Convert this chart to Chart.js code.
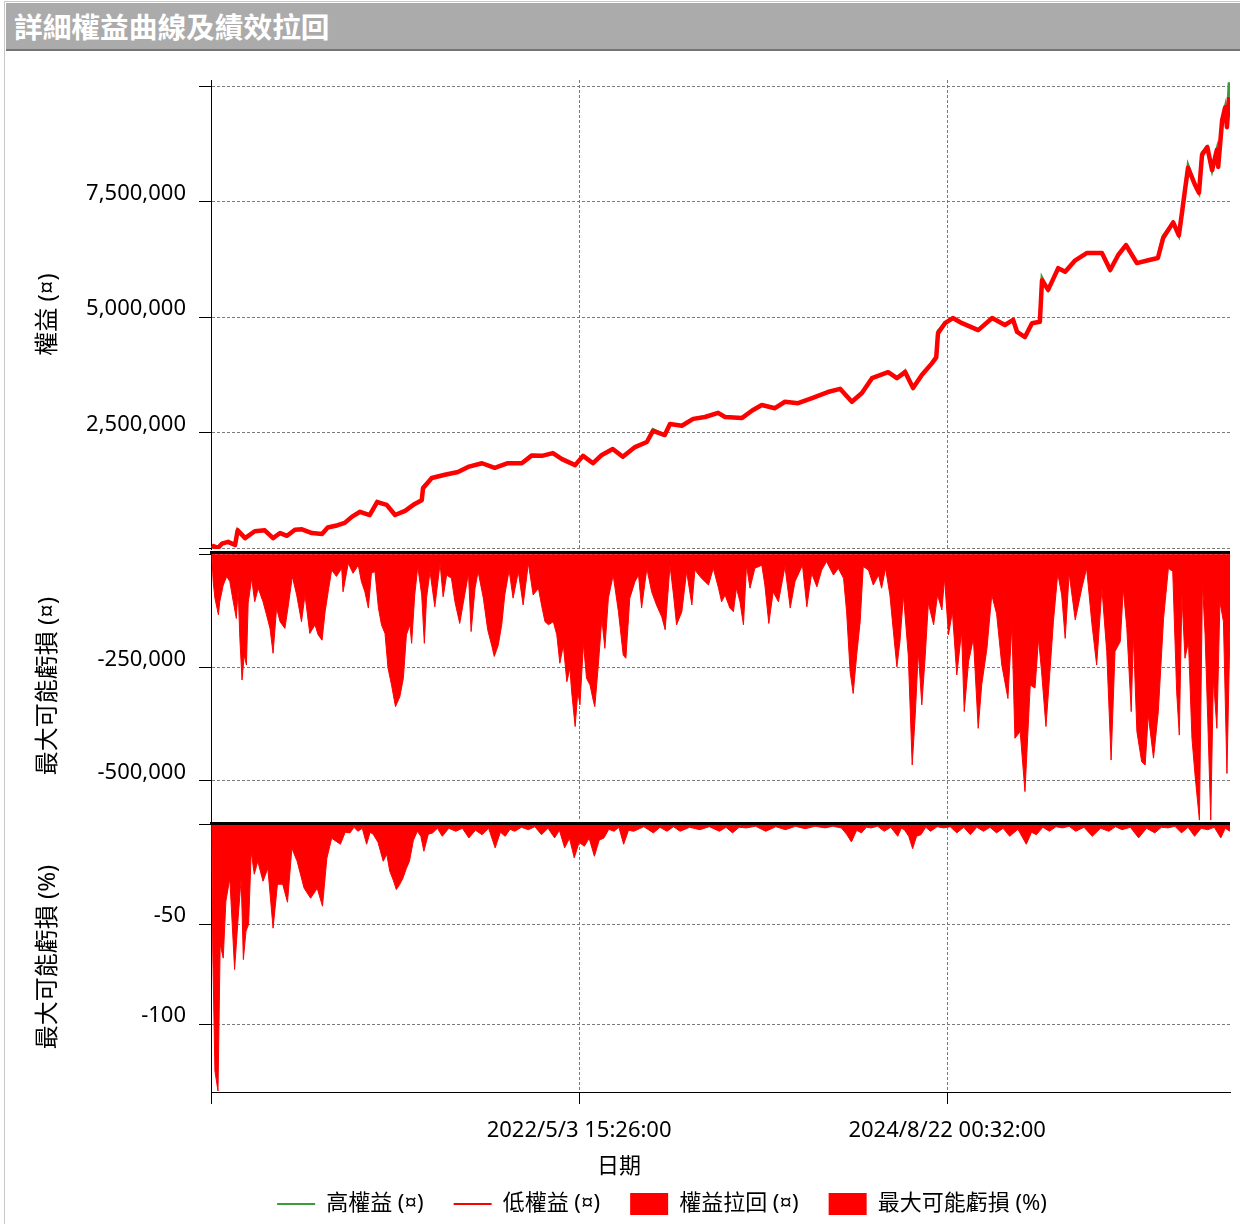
<!DOCTYPE html>
<html>
<head>
<meta charset="utf-8">
<title>詳細權益曲線及績效拉回</title>
<script src="https://cdn.jsdelivr.net/npm/chart.js@4.4.1/dist/chart.umd.min.js"></script>
<style>
  html, body { margin: 0; padding: 0; background: #fff; }
  #wrap { position: relative; width: 1240px; height: 1224px; overflow: hidden; }
  #frame { position: absolute; left: 4px; top: 1px; right: 0; bottom: 0;
           border-left: 1px solid #c8c8c8; border-top: 1px solid #c8c8c8; }
  #bar { position: absolute; left: 6px; top: 3px; width: 1234px; height: 48px; box-sizing: border-box;
         background: #ababab; border-bottom: 2px solid #747474; color: #fff; padding-left: 8px;
         font: bold 28.7px "Noto Sans CJK TC", sans-serif; line-height: 46px; }
  canvas { position: absolute; left: 0; }
</style>
</head>
<body>
<div id="wrap">
  <div id="frame"></div>
  <div id="bar">詳細權益曲線及績效拉回</div>
  <canvas id="eq"  width="1240" height="549" style="top:40px"></canvas>
  <canvas id="dd"  width="1240" height="350" style="top:511px"></canvas>
  <canvas id="pct" width="1240" height="410" style="top:782px"></canvas>
  <canvas id="lg"  width="1156" height="200" style="top:1163px;left:84px"></canvas>
</div>
<script>
// x axis is in days since the first bar
const xTickDays = [0, 840, 1682];
const xTickLabels = ["", "2022/5/3 15:26:00", "2024/8/22 00:32:00"];

// equity (high / low)
const eqDays = [
  0, 14, 23, 37, 53, 59, 76, 98, 121, 140,
  156, 172, 190, 206, 229, 252, 265, 288, 304, 320,
  339, 361, 378, 400, 419, 442, 464, 480, 483, 503,
  533, 563, 586, 618, 647, 677, 709, 732, 755, 780,
  801, 831, 849, 872, 892, 917, 940, 968, 995, 1009,
  1036, 1048, 1075, 1101, 1128, 1158, 1174, 1213, 1236, 1258,
  1288, 1311, 1341, 1373, 1409, 1437, 1464, 1487, 1510, 1547,
  1567, 1586, 1604, 1624, 1647, 1657, 1661, 1677, 1695, 1716,
  1753, 1785, 1814, 1833, 1842, 1860, 1876, 1894, 1899, 1913,
  1936, 1952, 1975, 2002, 2036, 2055, 2073, 2091, 2116, 2142,
  2164, 2176, 2199, 2212, 2219, 2226, 2233, 2249, 2258, 2265,
  2277, 2288, 2299, 2302, 2311, 2318, 2322, 2327
];
const eqLow = [
  60000, 10000, 100000, 140000, 70000, 390000, 220000, 370000, 390000, 220000,
  330000, 270000, 400000, 410000, 330000, 310000, 450000, 500000, 550000, 680000,
  790000, 720000, 1000000, 940000, 720000, 810000, 960000, 1040000, 1300000, 1520000,
  1590000, 1650000, 1760000, 1840000, 1740000, 1840000, 1840000, 2010000, 2000000, 2060000,
  1930000, 1800000, 2000000, 1840000, 2020000, 2150000, 1980000, 2190000, 2300000, 2540000,
  2450000, 2690000, 2650000, 2800000, 2840000, 2930000, 2840000, 2820000, 2980000, 3100000,
  3030000, 3170000, 3140000, 3250000, 3380000, 3450000, 3170000, 3360000, 3680000, 3810000,
  3680000, 3810000, 3470000, 3750000, 4000000, 4130000, 4650000, 4870000, 4980000, 4870000,
  4720000, 4980000, 4830000, 4940000, 4680000, 4570000, 4870000, 4900000, 5800000, 5590000,
  6060000, 5980000, 6230000, 6390000, 6390000, 6020000, 6340000, 6560000, 6170000, 6230000,
  6280000, 6710000, 7050000, 6770000, 7250000, 7750000, 8230000, 7860000, 7690000, 8510000,
  8680000, 8180000, 8620000, 8250000, 9260000, 9540000, 9110000, 9760000
];
const eqHigh = [
  60000, 10000, 100000, 140000, 70000, 400000, 220000, 370000, 390000, 220000,
  330000, 270000, 400000, 410000, 330000, 310000, 450000, 500000, 550000, 680000,
  790000, 720000, 1020000, 940000, 720000, 810000, 960000, 1040000, 1330000, 1520000,
  1590000, 1650000, 1760000, 1840000, 1740000, 1840000, 1840000, 2010000, 2000000, 2060000,
  1930000, 1800000, 2000000, 1840000, 2020000, 2150000, 1980000, 2190000, 2300000, 2570000,
  2450000, 2690000, 2650000, 2800000, 2840000, 2930000, 2840000, 2820000, 2980000, 3100000,
  3030000, 3170000, 3140000, 3250000, 3380000, 3450000, 3170000, 3360000, 3680000, 3810000,
  3680000, 3840000, 3470000, 3750000, 4000000, 4130000, 4700000, 4870000, 4980000, 4870000,
  4720000, 4980000, 4830000, 4940000, 4680000, 4570000, 4870000, 4900000, 5850000, 5590000,
  6060000, 5980000, 6230000, 6390000, 6390000, 6020000, 6340000, 6560000, 6170000, 6230000,
  6280000, 6760000, 7050000, 6770000, 7250000, 7750000, 8280000, 7860000, 7690000, 8560000,
  8680000, 8180000, 8620000, 8250000, 9260000, 9540000, 9110000, 10080000
];

// drawdown in currency
const ddDays = [
  0, 3, 7, 15, 18, 26, 34, 41, 49, 56,
  60, 64, 69, 74, 79, 83, 91, 98, 106, 117,
  125, 133, 140, 148, 156, 167, 175, 184, 194, 205,
  213, 224, 236, 243, 252, 259, 266, 274, 285, 297,
  300, 312, 323, 335, 342, 350, 358, 365, 373, 381,
  388, 396, 403, 411, 420, 430, 438, 445, 453, 457,
  464, 471, 480, 486, 491, 499, 510, 522, 529, 537,
  548, 556, 567, 575, 587, 593, 602, 609, 621, 631,
  640, 646, 655, 663, 670, 680, 689, 701, 712, 724,
  735, 747, 754, 762, 770, 781, 789, 796, 804, 812,
  819, 823, 831, 837, 842, 850, 857, 865, 873, 876,
  884, 892, 899, 907, 918, 930, 941, 947, 956, 968,
  976, 983, 995, 1006, 1017, 1029, 1037, 1048, 1056, 1063,
  1075, 1086, 1098, 1105, 1120, 1136, 1147, 1159, 1166,
  1174, 1185, 1193, 1200, 1208, 1216, 1223, 1231, 1242, 1258,
  1265, 1274, 1284, 1296, 1311, 1323, 1334, 1351, 1361, 1372,
  1384, 1395, 1406, 1422, 1433, 1445, 1452, 1460, 1467, 1475,
  1483, 1490, 1502, 1513, 1525, 1532, 1541, 1551, 1559, 1567,
  1574, 1582, 1593, 1602, 1609, 1616, 1624, 1631, 1639, 1651,
  1660, 1670, 1676, 1685, 1694, 1704, 1715, 1721, 1731, 1742,
  1753, 1761, 1773, 1784, 1795, 1807, 1821, 1830, 1837, 1849,
  1860, 1872, 1883, 1891, 1898, 1908, 1917, 1925, 1935, 1944,
  1952, 1961, 1975, 1990, 2001, 2013, 2024, 2036, 2047, 2057,
  2066, 2078, 2085, 2093, 2103, 2108, 2116, 2127, 2135, 2142,
  2154, 2165, 2177, 2188, 2198, 2207, 2213, 2219, 2226, 2234,
  2242, 2249, 2259, 2266, 2272, 2278, 2285, 2291, 2299, 2306,
  2314, 2322, 2329
];
const ddVals = [
  0, -60500, -97000, -134000, -105000, -68000, -49000, -60000, -105000, -142000,
  -75000, -186000, -278000, -223000, -245000, -108000, -53000, -105000, -75000, -105000,
  -134000, -164000, -219000, -119000, -149000, -164000, -112000, -49000, -90000, -149000,
  -90000, -175000, -156000, -178000, -190000, -127000, -83000, -35000, -49000, -31000,
  -83000, -20000, -42000, -24000, -60000, -83000, -119000, -42000, -38000, -119000,
  -156000, -175000, -252000, -289000, -337000, -315000, -274000, -178000, -156000, -197000,
  -90000, -27000, -90000, -197000, -97000, -38000, -116000, -20000, -94000, -46000,
  -53000, -105000, -153000, -108000, -42000, -171000, -75000, -38000, -97000, -167000,
  -201000, -226000, -201000, -156000, -90000, -35000, -97000, -38000, -112000, -20000,
  -90000, -75000, -112000, -149000, -156000, -149000, -178000, -241000, -201000, -282000,
  -252000, -304000, -381000, -304000, -333000, -197000, -274000, -289000, -326000, -337000,
  -245000, -142000, -208000, -97000, -46000, -127000, -223000, -230000, -97000, -60000,
  -46000, -119000, -31000, -83000, -112000, -138000, -167000, -24000, -90000, -156000,
  -127000, -38000, -112000, -35000, -53000, -68000, -31000, -75000, -105000,
  -90000, -119000, -127000, -75000, -105000, -156000, -24000, -75000, -31000, -24000,
  -68000, -153000, -83000, -105000, -27000, -119000, -60000, -24000, -116000, -42000,
  -72000, -35000, -16000, -46000, -31000, -53000, -127000, -260000, -308000, -223000,
  -149000, -27000, -35000, -68000, -46000, -75000, -31000, -90000, -171000, -249000,
  -193000, -90000, -223000, -466000, -355000, -215000, -333000, -237000, -108000, -156000,
  -90000, -123000, -53000, -178000, -127000, -267000, -171000, -348000, -237000, -186000,
  -385000, -289000, -208000, -90000, -131000, -245000, -319000, -156000, -407000, -392000,
  -525000, -289000, -296000, -186000, -260000, -381000, -260000, -149000, -42000, -90000,
  -186000, -42000, -145000, -75000, -31000, -153000, -245000, -75000, -215000, -455000,
  -215000, -193000, -75000, -164000, -348000, -178000, -392000, -459000, -466000, -355000,
  -451000, -348000, -142000, -31000, -38000, -304000, -400000, -90000, -230000, -193000,
  -407000, -488000, -588000, -64000, -178000, -363000, -588000, -274000, -385000, -105000,
  -149000, -485000, -164000
];

// drawdown in percent
const pctDays = [
  0, 2, 7, 14, 19, 26, 32, 41, 52, 60,
  67, 72, 78, 84, 90, 97, 105, 117, 128, 140,
  150, 162, 173, 183, 195, 211, 226, 241, 253, 263,
  274, 294,
  305, 316, 325, 334, 344, 354, 362, 369, 380, 392,
  400, 407, 415, 422, 430, 437, 445, 452, 461, 470,
  478, 485, 495, 505, 516, 527, 542, 558, 573, 588,
  603, 618, 633, 648, 660, 671, 682, 693, 708, 724,
  739, 754, 769, 784, 795, 807, 818, 829, 840, 852,
  863, 875, 886, 897, 908, 920, 931, 942, 953, 965,
  988, 1010, 1025, 1041, 1056, 1071, 1093, 1116, 1138, 1161,
  1176, 1191, 1206, 1222, 1244, 1267, 1290, 1312, 1335, 1357,
  1380, 1403, 1420, 1440, 1452, 1463, 1475, 1486, 1497, 1508,
  1523, 1538, 1553, 1569, 1577, 1584, 1594, 1603, 1612, 1622,
  1633, 1644, 1659, 1674, 1689, 1704, 1720, 1735, 1750, 1765,
  1780, 1795, 1810, 1825, 1844, 1863, 1875, 1886, 1901, 1916,
  1931, 1946, 1961, 1976, 1995, 2014, 2033, 2052, 2067, 2082,
  2101, 2120, 2138, 2157, 2172, 2187, 2203, 2218, 2233, 2248,
  2263, 2278, 2293, 2308, 2318, 2329
];
const pctVals = [
  0, -63.5, -123.5, -133.5, -60, -67, -38.5, -27, -72.7, -47,
  -27, -67.7, -53.5, -50, -13.5, -25, -18.5, -28.5, -22, -52,
  -30, -30, -39, -12, -18.5, -32, -37, -32, -41, -17,
  -7, -10,
  -4, -4.3, -1.5, -3.5, -2, -10, -4, -5, -9, -18.5,
  -15, -23.5, -28, -32.7, -30, -27, -22, -18.5, -8, -3.5,
  -6, -13.5, -5, -4.3, -2, -6, -2, -3.5, -2, -6.8,
  -3, -5.2, -2, -11.8, -4, -6, -2.5, -3.5, -1.5, -2.7,
  -1.2, -5.2, -2, -6.8, -3, -11.8, -7, -16.8, -9, -11,
  -7, -16, -8, -6.8, -2.5, -3.5, -1.5, -10, -3, -3.5,
  -1.2, -4.3, -1.5, -3.5, -1.2, -3.5, -1.5, -2.7, -1.2, -3.5,
  -1.5, -4.3, -1.5, -1.8, -1, -3.5, -1.2, -2.7, -1, -2.2,
  -1, -1.8, -1, -1.8, -5, -8.8, -3, -4.3, -1.5, -1.8,
  -1, -3.5, -1.5, -6, -2, -2.7, -6, -12.2, -6, -5.2,
  -1.5, -3.5, -1.2, -1.8, -1.2, -4.3, -1.5, -5.2, -1.5, -3.5,
  -1.5, -4.3, -2, -6, -2.5, -10, -4, -5.2, -1.5, -3.5,
  -1.2, -1.8, -1, -3.5, -1.5, -6, -2, -3.5, -1.2, -2.7,
  -1.5, -6.8, -2, -4.3, -1.5, -1.8, -1, -4.3, -1.5, -6,
  -2, -2.7, -1.5, -6.8, -2, -3.5
];

const eqTicks = [0, 2500000, 5000000, 7500000, 10000000];
const ddTicks = [-500000, -250000, 0];
const pctTicks = [-100, -50, 0];
const unlabeled = [0, 10000000];

const legendNames = ["高權益 (¤)", "低權益 (¤)", "權益拉回 (¤)", "最大可能虧損 (%)"];
const legendColors = ["#3a9b3a", "#ff0000", "#ff0000", "#ff0000"];

const RED = "#ff0000", GRID = "#7a7a7a";
Chart.defaults.font.family = '"Noto Sans", "Noto Sans CJK TC", sans-serif';
Chart.defaults.font.size = 22;
Chart.defaults.color = "#000";

const pts = (xs, ys) => xs.map((x, i) => ({ x, y: ys[i] }));

function xAxis(show) {
  return {
    type: "linear", min: -2, max: 2329,
    afterBuildTicks: s => { s.ticks = xTickDays.map(v => ({ value: v })); },
    afterFit: s => { if (show) s.height = 50; },
    ticks: { display: show, autoSkip: false, maxRotation: 0, padding: 14, callback: (v, i) => xTickLabels[i] },
    grid: { color: GRID, drawTicks: show, tickLength: 12, tickColor: "#000" },
    border: { display: show, color: "#000", dash: [3, 2] }
  };
}

function yAxis(min, max, ticks, title) {
  return {
    min, max,
    afterBuildTicks: s => { s.ticks = ticks.map(v => ({ value: v })); },
    afterFit: s => { s.width = 203; },
    ticks: { padding: 13, labelOffset: -8, callback: v => unlabeled.includes(v) ? "" : v.toLocaleString("en-US") },
    grid: { color: GRID, tickLength: 12, tickColor: "#000" },
    border: { color: "#000", dash: [3, 2] },
    title: { display: true, text: title, font: { size: 24 }, padding: { top: 26, bottom: 0 } }
  };
}

// heavy black rule along the top of the drawdown panels
const topRule = {
  id: "topRule",
  afterDatasetsDraw(chart) {
    const { ctx, chartArea: a } = chart;
    ctx.save();
    ctx.fillStyle = "#000";
    ctx.fillRect(a.left - 1, a.top, a.right - a.left + 1, 3);
    ctx.restore();
  }
};

const base = (pad) => ({
  responsive: false, animation: false,
  layout: { padding: pad },
  plugins: { legend: { display: false }, tooltip: { enabled: false } },
  elements: { point: { radius: 0 }, line: { tension: 0 } }
});

new Chart(document.getElementById("eq"), {
  type: "line",
  data: { datasets: [
    { label: legendNames[1], data: pts(eqDays, eqLow), borderColor: RED, borderWidth: 4.5, borderJoinStyle: "round", order: 0 },
    { label: legendNames[0], data: pts(eqDays, eqHigh), borderColor: legendColors[0], borderWidth: 3, order: 1 }
  ] },
  options: Object.assign(base({ left: 8, right: 10, top: 40, bottom: 40 }), {
    scales: { x: xAxis(false), y: yAxis(-15000, 10129800, eqTicks, "權益 (¤)") }
  })
});

new Chart(document.getElementById("dd"), {
  type: "line",
  data: { datasets: [
    { label: legendNames[2], data: pts(ddDays, ddVals), borderColor: RED, backgroundColor: RED, borderWidth: 1, fill: "origin" }
  ] },
  options: Object.assign(base({ left: 8, right: 10, top: 40, bottom: 40 }), {
    scales: { x: xAxis(false), y: yAxis(-590000, 7300, ddTicks, "最大可能虧損 (¤)") }
  }),
  plugins: [topRule]
});

const pctOpts = base({ left: 8, right: 10, top: 40, bottom: 2 });
pctOpts.plugins.title = { display: true, text: "日期", position: "bottom", font: { size: 22, weight: "normal" }, color: "#000", padding: { top: 12, bottom: 9.6 } };
pctOpts.scales = { x: xAxis(true), y: yAxis(-134, 1.15, pctTicks, "最大可能虧損 (%)") };
new Chart(document.getElementById("pct"), {
  type: "line",
  data: { datasets: [
    { label: legendNames[3], data: pts(pctDays, pctVals), borderColor: RED, backgroundColor: RED, borderWidth: 1, fill: "origin" }
  ] },
  options: pctOpts,
  plugins: [topRule]
});

// shared legend for the three panels
new Chart(document.getElementById("lg"), {
  type: "line",
  data: { datasets: [] },
  options: {
    responsive: false, animation: false,
    layout: { padding: 0 },
    scales: { x: { display: false }, y: { display: false } },
    plugins: {
      tooltip: { enabled: false },
      legend: {
        display: true, position: "top", align: "center", onClick: null,
        labels: {
          usePointStyle: true, pointStyleWidth: 38, boxHeight: 24, padding: 30,
          font: { size: 22 }, color: "#000",
          generateLabels: () => legendNames.map((t, i) => ({
            text: t, fillStyle: legendColors[i], strokeStyle: legendColors[i],
            lineWidth: i < 2 ? 2 : 0, pointStyle: i < 2 ? "line" : "rect", hidden: false, datasetIndex: i
          }))
        }
      }
    }
  }
});
</script>
</body>
</html>
